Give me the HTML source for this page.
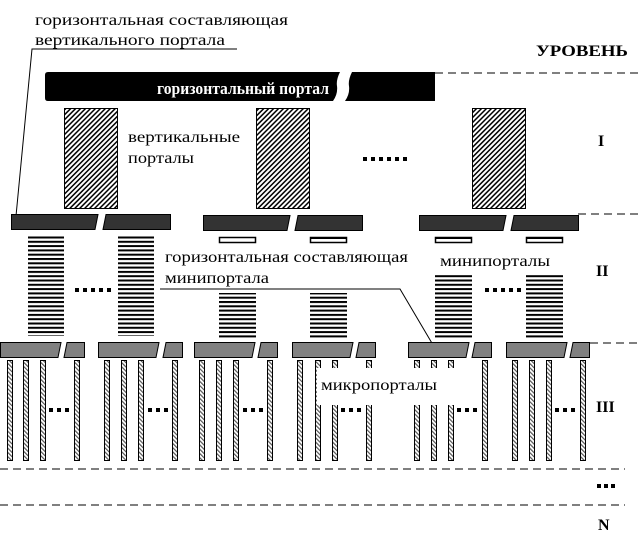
<!DOCTYPE html>
<html><head><meta charset="utf-8"><style>
html,body{margin:0;padding:0;background:#fff;}
svg{display:block;}
text{font-family:"Liberation Serif","DejaVu Serif",serif;}
</style></head><body>
<svg width="642" height="541" viewBox="0 0 642 541" xmlns="http://www.w3.org/2000/svg">
<defs>
<pattern id="diag" width="3.5" height="3.5" patternUnits="userSpaceOnUse" patternTransform="rotate(45)">
<rect width="3.5" height="3.5" fill="#fff"/><rect width="1.5" height="3.5" fill="#000"/>
</pattern>
<pattern id="hstripe" width="4" height="4.3" patternUnits="userSpaceOnUse">
<rect width="4" height="4.3" fill="#fff"/><rect width="4" height="2" fill="#000"/>
</pattern>
<pattern id="micro" width="3" height="3" patternUnits="userSpaceOnUse" patternTransform="rotate(-45)">
<rect width="3" height="3" fill="#fff"/><rect width="1.2" height="3" fill="#555"/>
</pattern>
</defs>

<text x="35" y="25" font-size="16" textLength="253" lengthAdjust="spacingAndGlyphs">горизонтальная составляющая</text>
<text x="35" y="45" font-size="16" textLength="190" lengthAdjust="spacingAndGlyphs">вертикального портала</text>
<polyline points="237,49 32,49 16,216" fill="none" stroke="#000" stroke-width="1"/>

<text x="536" y="56" font-size="16" font-weight="bold" textLength="92" lengthAdjust="spacingAndGlyphs">УРОВЕНЬ</text>

<g stroke="#000" stroke-width="1" stroke-dasharray="8,5">
<line x1="435" y1="73" x2="642" y2="73"/>
<line x1="578" y1="214" x2="642" y2="214"/>
<line x1="590" y1="343" x2="642" y2="343"/>
<line x1="0" y1="469" x2="625" y2="469"/>
<line x1="0" y1="505" x2="625" y2="505"/>
</g>

<!-- horizontal portal -->
<path d="M48,72 H340 Q336,80 337,86 Q338,94 333,101 H48 Q45,101 45,98 V75 Q45,72 48,72 Z" fill="#000"/>
<path d="M352,72 H435 V101 H345 Q350,94 349,86 Q348,80 352,72 Z" fill="#000"/>
<text x="157" y="94" font-size="17" font-weight="bold" fill="#fff" textLength="172" lengthAdjust="spacingAndGlyphs">горизонтальный портал</text>

<rect x="64.5" y="108.5" width="53" height="100" fill="url(#diag)" stroke="#000"/>
<rect x="256.5" y="108.5" width="53" height="100" fill="url(#diag)" stroke="#000"/>
<rect x="472.5" y="108.5" width="53" height="100" fill="url(#diag)" stroke="#000"/>
<text x="128" y="142" font-size="16" textLength="112" lengthAdjust="spacingAndGlyphs">вертикальные</text>
<text x="128" y="163" font-size="16" textLength="66" lengthAdjust="spacingAndGlyphs">порталы</text>
<g fill="#000">
<rect x="363" y="157" width="4" height="4"/><rect x="371" y="157" width="4" height="4"/><rect x="379" y="157" width="4" height="4"/><rect x="387" y="157" width="4" height="4"/><rect x="395" y="157" width="4" height="4"/><rect x="403" y="157" width="4" height="4"/>
</g>
<text x="598" y="146" font-size="16" font-weight="bold">I</text>

<g fill="#333" stroke="#000" stroke-width="1">
<path d="M11.5,214.5 H98 L95,229.5 H11.5 Z"/><path d="M106,214.5 H170.5 V229.5 H103 Z"/>
<path d="M203.5,215.5 H290 L287,230.5 H203.5 Z"/><path d="M298,215.5 H362.5 V230.5 H295 Z"/>
<path d="M419.5,215.5 H506 L503,230.5 H419.5 Z"/><path d="M514,215.5 H578.5 V230.5 H511 Z"/>
</g>

<g fill="#fff" stroke="#000" stroke-width="1.5">
<rect x="219.5" y="237.5" width="36" height="5"/><rect x="310.5" y="237.5" width="36" height="5"/>
<rect x="435.5" y="237.5" width="36" height="5"/><rect x="526.5" y="237.5" width="36" height="5"/>
</g>
<g fill="#000"><rect x="310" y="237" width="37" height="2"/><rect x="435" y="237" width="37" height="2"/><rect x="526" y="237" width="37" height="2"/></g>

<rect x="28" y="236" width="36" height="100" fill="url(#hstripe)"/>
<rect x="118" y="236" width="36" height="100" fill="url(#hstripe)"/>
<rect x="219" y="293" width="37" height="45" fill="url(#hstripe)"/>
<rect x="310" y="293" width="37" height="45" fill="url(#hstripe)"/>
<rect x="435" y="275" width="37" height="63" fill="url(#hstripe)"/>
<rect x="526" y="275" width="37" height="63" fill="url(#hstripe)"/>
<g fill="#000">
<rect x="75" y="288" width="4" height="4"/><rect x="83" y="288" width="4" height="4"/><rect x="91" y="288" width="4" height="4"/><rect x="99" y="288" width="4" height="4"/><rect x="107" y="288" width="4" height="4"/>
<rect x="485" y="288" width="4" height="4"/><rect x="493" y="288" width="4" height="4"/><rect x="501" y="288" width="4" height="4"/><rect x="509" y="288" width="4" height="4"/><rect x="517" y="288" width="4" height="4"/>
</g>

<rect x="160" y="246" width="250" height="40" fill="#fff"/>
<text x="165" y="262" font-size="16" textLength="243" lengthAdjust="spacingAndGlyphs">горизонтальная составляющая</text>
<text x="165" y="283" font-size="16" textLength="104" lengthAdjust="spacingAndGlyphs">минипортала</text>
<polyline points="160,289 400,289 436,350" fill="none" stroke="#000" stroke-width="1"/>
<rect x="438" y="250" width="112" height="20" fill="#fff"/>
<text x="440" y="266" font-size="16" textLength="110" lengthAdjust="spacingAndGlyphs">минипорталы</text>
<text x="596" y="276" font-size="16" font-weight="bold">II</text>

<g fill="#808080" stroke="#000" stroke-width="1">
<path d="M0.5,342.5 H61 L58,357.5 H0.5 Z"/><path d="M67,342.5 H84.5 V357.5 H64 Z"/>
<path d="M98.5,342.5 H159 L156,357.5 H98.5 Z"/><path d="M166,342.5 H182.5 V357.5 H163 Z"/>
<path d="M194.5,342.5 H255 L252,357.5 H194.5 Z"/><path d="M261,342.5 H277.5 V357.5 H258 Z"/>
<path d="M292.5,342.5 H353 L350,357.5 H292.5 Z"/><path d="M359,342.5 H375.5 V357.5 H356 Z"/>
<path d="M408.5,342.5 H469 L466,357.5 H408.5 Z"/><path d="M475,342.5 H491.5 V357.5 H472 Z"/>
<path d="M506.5,342.5 H567 L564,357.5 H506.5 Z"/><path d="M573,342.5 H589.5 V357.5 H570 Z"/>
</g>

<g fill="url(#micro)" stroke="#000" stroke-width="1">
<rect x="7.5" y="360.5" width="5" height="100"/><rect x="23.5" y="360.5" width="5" height="100"/><rect x="40.5" y="360.5" width="5" height="100"/><rect x="74.5" y="360.5" width="5" height="100"/>
<rect x="104.5" y="360.5" width="5" height="100"/><rect x="121.5" y="360.5" width="5" height="100"/><rect x="138.5" y="360.5" width="5" height="100"/><rect x="172.5" y="360.5" width="5" height="100"/>
<rect x="199.5" y="360.5" width="5" height="100"/><rect x="216.5" y="360.5" width="5" height="100"/><rect x="233.5" y="360.5" width="5" height="100"/><rect x="267.5" y="360.5" width="5" height="100"/>
<rect x="297.5" y="360.5" width="5" height="100"/><rect x="315.5" y="360.5" width="5" height="100"/><rect x="332.5" y="360.5" width="5" height="100"/><rect x="366.5" y="360.5" width="5" height="100"/>
<rect x="414.5" y="360.5" width="5" height="100"/><rect x="431.5" y="360.5" width="5" height="100"/><rect x="448.5" y="360.5" width="5" height="100"/><rect x="482.5" y="360.5" width="5" height="100"/>
<rect x="512.5" y="360.5" width="5" height="100"/><rect x="529.5" y="360.5" width="5" height="100"/><rect x="546.5" y="360.5" width="5" height="100"/><rect x="580.5" y="360.5" width="5" height="100"/>
</g>
<rect x="317" y="368" width="160" height="37" fill="#fff"/>
<text x="321" y="390" font-size="16" textLength="116" lengthAdjust="spacingAndGlyphs">микропорталы</text>
<g fill="#000">
<rect x="49" y="408" width="4" height="4"/><rect x="57" y="408" width="4" height="4"/><rect x="65" y="408" width="4" height="4"/>
<rect x="148" y="408" width="4" height="4"/><rect x="156" y="408" width="4" height="4"/><rect x="164" y="408" width="4" height="4"/>
<rect x="243" y="408" width="4" height="4"/><rect x="251" y="408" width="4" height="4"/><rect x="259" y="408" width="4" height="4"/>
<rect x="341" y="408" width="4" height="4"/><rect x="349" y="408" width="4" height="4"/><rect x="357" y="408" width="4" height="4"/>
<rect x="457" y="408" width="4" height="4"/><rect x="465" y="408" width="4" height="4"/><rect x="473" y="408" width="4" height="4"/>
<rect x="555" y="408" width="4" height="4"/><rect x="563" y="408" width="4" height="4"/><rect x="571" y="408" width="4" height="4"/>
<rect x="597" y="484" width="4" height="4"/><rect x="604" y="484" width="4" height="4"/><rect x="611" y="484" width="4" height="4"/>
</g>
<text x="596" y="412" font-size="16" font-weight="bold">III</text>
<text x="598" y="530" font-size="16" font-weight="bold">N</text>
</svg>
</body></html>
